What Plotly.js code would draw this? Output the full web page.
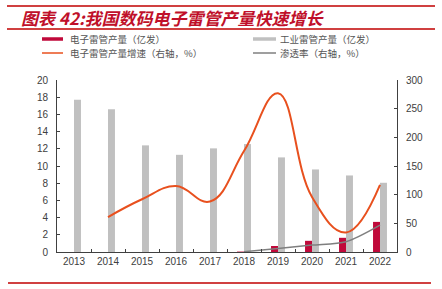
<!DOCTYPE html>
<html>
<head>
<meta charset="utf-8">
<script src="https://cdn.plot.ly/plotly-3.0.1.min.js"></script>
<style>
html,body{margin:0;padding:0;background:#fff;}
#chart{width:442px;height:289px;}
</style>
</head>
<body>
<div id="chart"></div>
<script>
const years = ['2013','2014','2015','2016','2017','2018','2019','2020','2021','2022'];
const electronicOutput = [null, null, null, null, null, 0.05, 0.7, 1.3, 1.65, 3.5];
const industrialOutput = [17.7, 16.6, 12.4, 11.3, 12.05, 12.55, 11.0, 9.6, 8.9, 8.05];
const electronicGrowth = [null, 61, 92, 115, 88, 176, 277, 96, 34, 117];
const penetrationRate = [null, null, null, null, null, 0.5, 6, 12, 18, 47];

const titleText = '图表 42:我国数码电子雷管产量快速增长';
const legendNames = ['电子雷管产量（亿发）', '工业雷管产量（亿发）', '电子雷管产量增速（右轴，%）', '渗透率（右轴，%）'];

const cjk = '"Noto Sans CJK SC", "Noto Sans", sans-serif';
const num = '"Liberation Sans", Arial, sans-serif';

const traces = [
  {type:'bar', x:years, y:electronicOutput, name:legendNames[0], marker:{color:'#c0093a'}, yaxis:'y', showlegend:false},
  {type:'bar', x:years, y:industrialOutput, name:legendNames[1], marker:{color:'#c0c0c0'}, yaxis:'y', showlegend:false},
  {type:'scatter', mode:'lines', x:years, y:electronicGrowth, name:legendNames[2], line:{color:'#e8501e', width:2, shape:'spline', smoothing:1.2}, yaxis:'y2', showlegend:false, connectgaps:false},
  {type:'scatter', mode:'lines', x:years, y:penetrationRate, name:legendNames[3], line:{color:'#7f7f7f', width:1.5, shape:'spline', smoothing:0.8}, yaxis:'y2', showlegend:false}
];

const red = '#c00000';
const shapes = [
  {type:'line', xref:'paper', yref:'paper', x0:-50/340, x1:378/340, y0:1+(80-6)/172, y1:1+(80-6)/172, line:{color:red, width:1.5}},
  {type:'line', xref:'paper', yref:'paper', x0:-50/340, x1:378/340, y0:1+(80-29)/172, y1:1+(80-29)/172, line:{color:red, width:1.5}},
  {type:'line', xref:'paper', yref:'paper', x0:-49/340, x1:374/340, y0:-(283-252)/172, y1:-(283-252)/172, line:{color:red, width:1.5}},
  // legend swatches
  {type:'line', xref:'paper', yref:'paper', x0:(42-57)/340, x1:(63-57)/340, y0:1+(80-39)/172, y1:1+(80-39)/172, line:{color:'#c0093a', width:3.5}},
  {type:'line', xref:'paper', yref:'paper', x0:(253-57)/340, x1:(276-57)/340, y0:1+(80-39)/172, y1:1+(80-39)/172, line:{color:'#c0c0c0', width:3.5}},
  {type:'line', xref:'paper', yref:'paper', x0:(42-57)/340, x1:(63-57)/340, y0:1+(80-53)/172, y1:1+(80-53)/172, line:{color:'#e8501e', width:1.5}},
  {type:'line', xref:'paper', yref:'paper', x0:(253-57)/340, x1:(276-57)/340, y0:1+(80-53)/172, y1:1+(80-53)/172, line:{color:'#7f7f7f', width:1.5}}
];

const legendFont = {family:cjk, size:9.5, color:'#555555'};
const ann = (x, y, text, font) => ({xref:'paper', yref:'paper', x:(x-57)/340, y:1+(80-y)/172, xanchor:'left', yanchor:'middle',
  showarrow:false, text:text, font:font, borderpad:0});
const annotations = [
  ann(20, 17.5, '<b><i>'+titleText+'</i></b>', {family:cjk, size:17, color:'#c0102a'}),
  ann(69, 38.5, legendNames[0], legendFont),
  ann(279, 38.5, legendNames[1], legendFont),
  ann(69, 53.5, legendNames[2], legendFont),
  ann(279, 53.5, legendNames[3], legendFont)
];

const layout = {
  width:442, height:289,
  margin:{l:57, r:45, t:80, b:37, pad:0},
  paper_bgcolor:'#ffffff', plot_bgcolor:'#ffffff',
  barmode:'group', bargap:0.59, bargroupgap:0,
  showlegend:false,
  xaxis:{type:'category', showline:true, linecolor:'#404040', linewidth:1, ticks:'inside', ticklen:3, tickcolor:'#404040',
         tickson:'boundaries', showgrid:false, zeroline:false, tickfont:{family:num, size:10, color:'#404040'}},
  yaxis:{range:[0,20], dtick:2, showline:true, linecolor:'#404040', linewidth:1, ticks:'inside', ticklen:3, tickcolor:'#404040',
         showgrid:false, zeroline:false, tickfont:{family:num, size:10, color:'#404040'}, ticklabelstandoff:6},
  yaxis2:{range:[0,300], dtick:50, overlaying:'y', side:'right', showline:true, linecolor:'#404040', linewidth:1, ticks:'inside', ticklen:3,
          tickcolor:'#404040', showgrid:false, zeroline:false, tickfont:{family:num, size:10, color:'#404040'}, ticklabelstandoff:6},
  shapes:shapes,
  annotations:annotations
};

Plotly.newPlot('chart', traces, layout, {displayModeBar:false, staticPlot:true});
</script>
</body>
</html>
